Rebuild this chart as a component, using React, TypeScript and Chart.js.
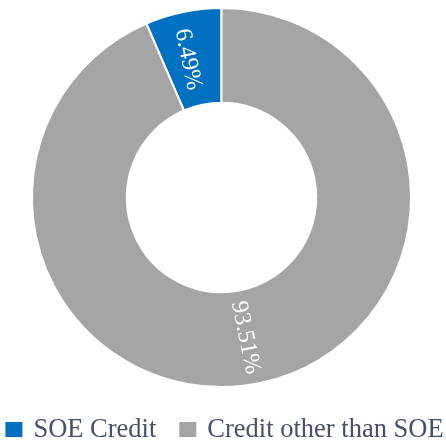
import React, { useEffect, useRef } from "react";
import { Chart, registerables } from "chart.js";

Chart.register(...registerables);

const categories: string[] = ["SOE Credit", "Credit other than SOE"];
const values: number[] = [6.49, 93.51];
const valueLabels: string[] = ["6.49%", "93.51%"];
const colors: string[] = ["#0070C0", "#A5A5A5"];

const FONT = "'Liberation Serif', 'Times New Roman', serif";

const sliceLabelPlugin = {
  id: "sliceLabels",
  afterDatasetsDraw(chart: any) {
    const ctx = chart.ctx as CanvasRenderingContext2D;
    const meta = chart.getDatasetMeta(0);
    meta.data.forEach((arc: any, i: number) => {
      const p = arc.getProps(["x", "y", "startAngle", "endAngle", "innerRadius", "outerRadius"], true);
      const mid = (p.startAngle + p.endAngle) / 2;
      const r = (p.innerRadius + p.outerRadius) / 2;
      const x = p.x + Math.cos(mid) * r;
      const y = p.y + Math.sin(mid) * r;
      let rot = mid;
      if (Math.sin(mid) < 0) rot += Math.PI;
      ctx.save();
      ctx.translate(x, y);
      ctx.rotate(rot);
      ctx.font = `24px ${FONT}`;
      ctx.fillStyle = "#FFFFFF";
      ctx.textAlign = "center";
      ctx.textBaseline = "middle";
      ctx.fillText(valueLabels[i], 0, 5);
      ctx.restore();
    });
  },
};

const legendPlugin = {
  id: "customLegend",
  afterDraw(chart: any) {
    const ctx = chart.ctx as CanvasRenderingContext2D;
    const boxW = 17;
    const boxH = 15;
    const gapText = 11;
    const gapItem = 23;
    ctx.save();
    ctx.font = `26.5px ${FONT}`;
    const widths = categories.map((c) => boxW + gapText + ctx.measureText(c).width);
    const total = widths.reduce((a, b) => a + b, 0) + gapItem * (categories.length - 1);
    let x = 224.5 - total / 2;
    const baseY = 437;
    categories.forEach((c, i) => {
      ctx.fillStyle = colors[i];
      ctx.fillRect(x, baseY - boxH, boxW, boxH);
      ctx.fillStyle = "#47506A";
      ctx.textAlign = "left";
      ctx.textBaseline = "alphabetic";
      ctx.fillText(c, x + boxW + gapText, baseY);
      x += widths[i] + gapItem;
    });
    ctx.restore();
  },
};

export default function App() {
  const ref = useRef<HTMLCanvasElement | null>(null);
  useEffect(() => {
    if (!ref.current) return;
    const chart = new Chart(ref.current, {
      type: "doughnut",
      data: {
        labels: categories,
        datasets: [
          {
            data: values,
            backgroundColor: colors,
            borderColor: "#FFFFFF",
            borderWidth: 2,
            hoverOffset: 0,
          },
        ],
      },
      options: {
        animation: false,
        responsive: false,
        maintainAspectRatio: false,
        cutout: "50%",
        rotation: -(values[0] / values.reduce((a, b) => a + b, 0)) * 360,
        layout: { padding: { top: 7, bottom: 57, left: 0, right: 3 } },
        plugins: {
          legend: { display: false },
          tooltip: { enabled: false },
        },
      },
      plugins: [sliceLabelPlugin, legendPlugin],
    });
    return () => chart.destroy();
  }, []);
  return (
    <div style={{ position: "fixed", left: 0, top: 0, width: 446, height: 445, background: "#fff" }}>
      <canvas ref={ref} width={446} height={445} style={{ width: 446, height: 445, display: "block" }} />
    </div>
  );
}
